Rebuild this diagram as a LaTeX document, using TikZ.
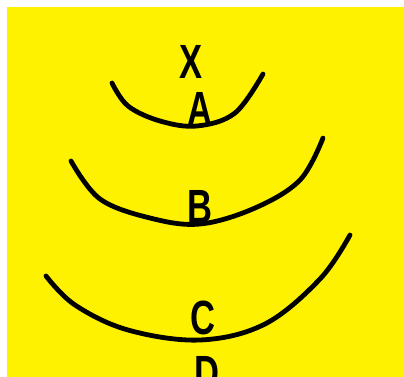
\documentclass[tikz,border=0pt]{standalone}
\usepackage{fontspec}
\setmainfont{Liberation Sans}
\begin{document}
\begin{tikzpicture}[x=1pt,y=-1pt,
  curve/.style={line width=4.8pt, line cap=round, line join=round, smooth, tension=0.6},
  letter/.style={anchor=base, inner sep=0pt, font=\fontsize{48}{48}\selectfont\bfseries}]
\useasboundingbox (0,0) rectangle (404,377);
\clip (0,0) rectangle (404,377);
\fill[white] (0,0) rectangle (404,377);
\fill[yellow] (7,7) rectangle (404,377);
% curves
\draw[curve] plot coordinates {(112,83) (128,106) (160,121) (197,126) (235,113) (263,74)};
\draw[curve] plot coordinates {(71,161) (100,199) (150,218) (200,224) (255,208) (300,180) (323,138)};
\draw[curve] plot coordinates {(46,276) (75,305) (128,330) (200,340) (265,324) (320,279) (350,235)};
% letters
\node[letter] (x) at (191,79) {\scalebox{0.72}[1]{X}};
\node[letter] (a) at (200,125) {\scalebox{0.72}[1]{A}};
\node[letter] (b) at (200,223) {\scalebox{0.72}[1]{B}};
\node[letter] (c) at (203,334) {\scalebox{0.72}[1]{C}};
\node[letter] (d) at (207,389) {\scalebox{0.72}[1]{D}};
\end{tikzpicture}
\end{document}
